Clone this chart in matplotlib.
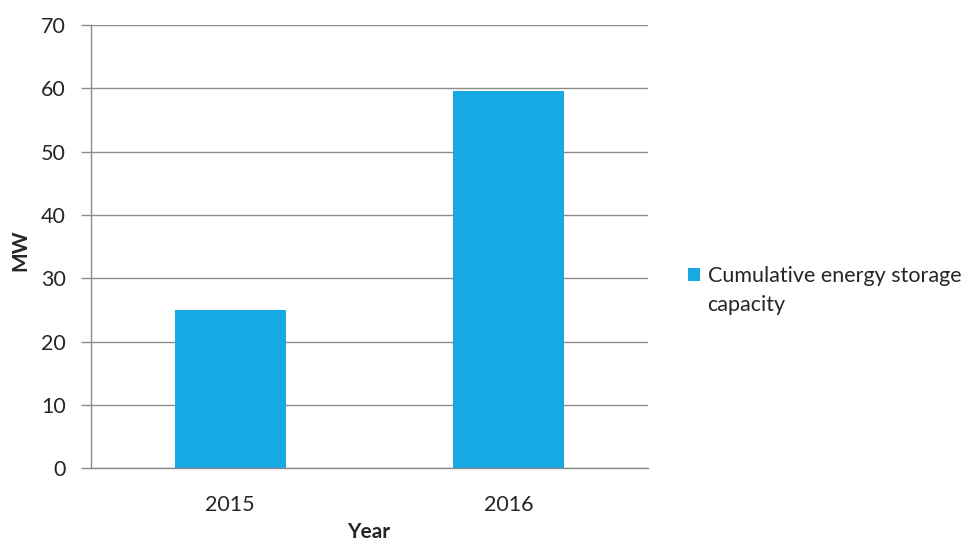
import numpy as np
import matplotlib.pyplot as plt

years = ['2015', '2016']
capacity = [25.0, 59.5]
series_lines = ['Cumulative energy storage', 'capacity']

plt.rcParams['font.family'] = ['Lato', 'DejaVu Sans']

W, H = 979, 545
fig = plt.figure(figsize=(W/100, H/100), dpi=100)
ax = fig.add_axes([91/W, 1-468.3/H, (648-91)/W, (468.3-25)/H])

bar_col = '#17a9e3'
grid_col = '#8c8c8c'
txt_col = '#262626'
x = np.arange(len(years))
ax.bar(x, capacity, width=0.40, color=bar_col, zorder=3, label=series_lines[0])

ax.set_xlim(-0.5, 1.5)
ax.set_ylim(0, 70)
ax.set_yticks(np.arange(0, 71, 10))
ax.set_xticks(x)
ax.set_xticklabels(years)
ax.yaxis.grid(True, color=grid_col, linewidth=1.0, zorder=0)

for s in ['top', 'right']:
    ax.spines[s].set_visible(False)
for s in ['left', 'bottom']:
    ax.spines[s].set_color(grid_col)
    ax.spines[s].set_linewidth(1.0)
    ax.spines[s].set_zorder(4)

ax.tick_params(axis='y', length=7, width=1.0, color=grid_col, labelsize=15.5,
               labelcolor=txt_col, pad=11)
ax.tick_params(axis='x', length=0, labelsize=15.5, labelcolor=txt_col, pad=19)

# axis titles placed in figure pixels
fig.text(20/W, 1-250/H, 'MW', rotation=90, ha='center', va='center',
         fontsize=15, fontweight='bold', color=txt_col)
fig.text(369/W, 1-532/H, 'Year', ha='center', va='center',
         fontsize=15, fontweight='bold', color=txt_col)

# legend: first line next to the swatch, wrapped remainder below it
leg = ax.legend(loc='center left', bbox_to_anchor=(688/W, 1-276/H),
                bbox_transform=fig.transFigure, frameon=False, fontsize=15.5,
                handlelength=0.55, handleheight=0.55, handletextpad=0.4,
                borderpad=0, borderaxespad=0)
for t in leg.get_texts():
    t.set_color(txt_col)
fig.text(707/W, 1-305/H, series_lines[1], ha='left', va='center',
         fontsize=15.5, color=txt_col)

fig.savefig('out.png', dpi=100)
